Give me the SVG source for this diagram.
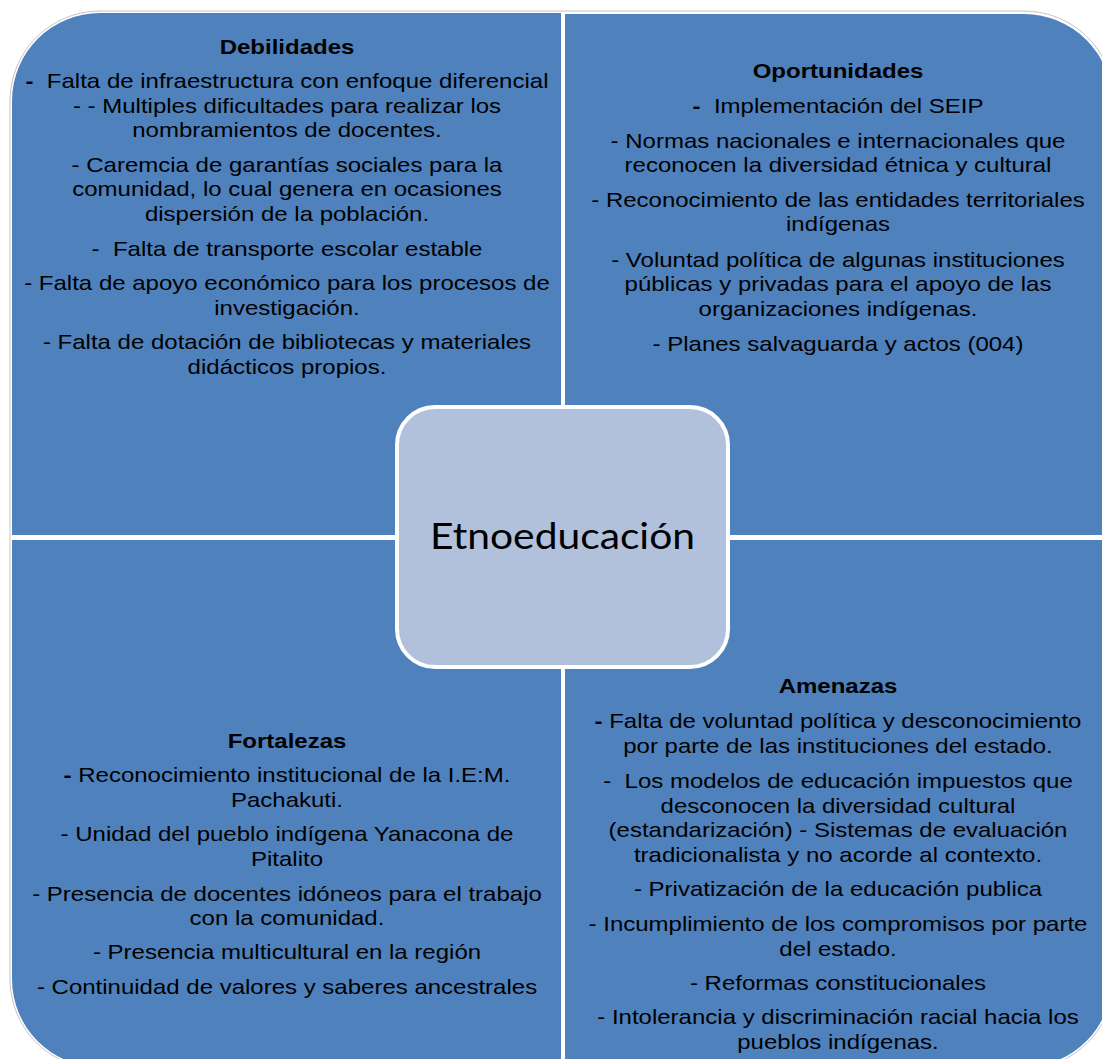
<svg xmlns="http://www.w3.org/2000/svg" width="1102" height="1059" viewBox="0 0 1102 1059">
<style>
.q{fill:#4F81BD;}
.t{font-family:"Liberation Sans",Arial,sans-serif;font-size:21px;fill:#000;text-anchor:middle;white-space:pre;}
.h{font-weight:bold;}
.c{font-family:Lato,"Open Sans",sans-serif;font-size:36px;fill:#000;}
</style>
<rect width="1102" height="1059" fill="#fff"/>
<rect x="10" y="11" width="1104" height="1058" rx="90" ry="90" fill="none" stroke="#c4c4c4" stroke-width="1"/>
<g id="debilidades">
<path class="q" d="M12,101 A88,88 0 0 1 100,13 L561,13 L561,535 L12,535 Z"/>
<g transform="translate(287,0) scale(1.143,1)">
<text class="t h" x="0" y="54">Debilidades</text>
<text class="t" x="0" y="88"><tspan class="h">-</tspan>  Falta de infraestructura con enfoque diferencial</text>
<text class="t" x="0" y="113">- - Multiples dificultades para realizar los</text>
<text class="t" x="0" y="137.5">nombramientos de docentes.</text>
<text class="t" x="0" y="172">- Caremcia de garantías sociales para la</text>
<text class="t" x="0" y="196.5">comunidad, lo cual genera en ocasiones</text>
<text class="t" x="0" y="221">dispersión de la población.</text>
<text class="t" x="0" y="256">-  Falta de transporte escolar estable</text>
<text class="t" x="0" y="290.5">- Falta de apoyo económico para los procesos de</text>
<text class="t" x="0" y="315">investigación.</text>
<text class="t" x="0" y="349.5">- Falta de dotación de bibliotecas y materiales</text>
<text class="t" x="0" y="374">didácticos propios.</text>
</g>
</g>
<g id="oportunidades">
<path class="q" d="M565,14 L1024,14 A88,88 0 0 1 1112,102 L1112,535 L565,535 Z"/>
<g transform="translate(838,0) scale(1.143,1)">
<text class="t h" x="0" y="78">Oportunidades</text>
<text class="t" x="0" y="113"><tspan class="h">-</tspan>  Implementación del SEIP</text>
<text class="t" x="0" y="148">- Normas nacionales e internacionales que</text>
<text class="t" x="0" y="172.5">reconocen la diversidad étnica y cultural</text>
<text class="t" x="0" y="207">- Reconocimiento de las entidades territoriales</text>
<text class="t" x="0" y="231.5">indígenas</text>
<text class="t" x="0" y="267">- Voluntad política de algunas instituciones</text>
<text class="t" x="0" y="291.5">públicas y privadas para el apoyo de las</text>
<text class="t" x="0" y="316">organizaciones indígenas.</text>
<text class="t" x="0" y="351">- Planes salvaguarda y actos (004)</text>
</g>
</g>
<g id="fortalezas">
<path class="q" d="M12,540 L561,540 L561,1067 L100,1067 A88,88 0 0 1 12,979 Z"/>
<g transform="translate(287,0) scale(1.143,1)">
<text class="t h" x="0" y="748.5">Fortalezas</text>
<text class="t" x="0" y="782.5"><tspan class="h">-</tspan> Reconocimiento institucional de la I.E:M.</text>
<text class="t" x="0" y="807.5">Pachakuti.</text>
<text class="t" x="0" y="841.5">- Unidad del pueblo indígena Yanacona de</text>
<text class="t" x="0" y="866.5">Pitalito</text>
<text class="t" x="0" y="901.5">- Presencia de docentes idóneos para el trabajo</text>
<text class="t" x="0" y="925.5">con la comunidad.</text>
<text class="t" x="0" y="959.5">- Presencia multicultural en la región</text>
<text class="t" x="0" y="994.5">- Continuidad de valores y saberes ancestrales</text>
</g>
</g>
<g id="amenazas">
<path class="q" d="M565,540 L1112,540 L1112,979 A88,88 0 0 1 1024,1067 L565,1067 Z"/>
<g transform="translate(838,0) scale(1.143,1)">
<text class="t h" x="0" y="693.5">Amenazas</text>
<text class="t" x="0" y="728.5"><tspan class="h">-</tspan> Falta de voluntad política y desconocimiento</text>
<text class="t" x="0" y="753">por parte de las instituciones del estado.</text>
<text class="t" x="0" y="788">-  Los modelos de educación impuestos que</text>
<text class="t" x="0" y="813">desconocen la diversidad cultural</text>
<text class="t" x="0" y="837.5">(estandarización) - Sistemas de evaluación</text>
<text class="t" x="0" y="862.5">tradicionalista y no acorde al contexto.</text>
<text class="t" x="0" y="896.5">- Privatización de la educación publica</text>
<text class="t" x="0" y="931.5">- Incumplimiento de los compromisos por parte</text>
<text class="t" x="0" y="956">del estado.</text>
<text class="t" x="0" y="990">- Reformas constitucionales</text>
<text class="t" x="0" y="1024.5">- Intolerancia y discriminación racial hacia los</text>
<text class="t" x="0" y="1049">pueblos indígenas.</text>
</g>
</g>
<g id="connectors"></g>
<g id="etnoeducacion">
<rect x="397" y="407" width="331" height="260" rx="38" ry="38" fill="#B2C1DB" stroke="#fff" stroke-width="4"/>
<text class="c" x="430" y="549" textLength="265" lengthAdjust="spacingAndGlyphs">Etnoeducación</text>
</g>
</svg>
